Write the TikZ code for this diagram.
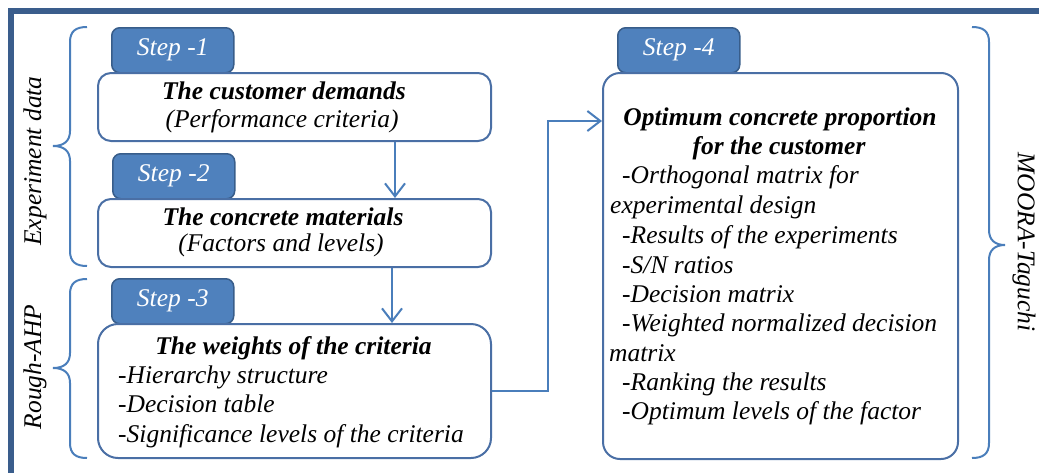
\documentclass[tikz,border=0pt]{standalone}
\usepackage{fontspec}
\setmainfont{Liberation Serif}
\usetikzlibrary{arrows.meta}
\definecolor{framec}{HTML}{3A5D8C}
\definecolor{tabfill}{HTML}{4F81BD}
\definecolor{tabdraw}{HTML}{385D8A}
\definecolor{boxdraw}{HTML}{4A6FA5}
\definecolor{arrc}{HTML}{4A7EBB}
\begin{document}
\begin{tikzpicture}[x=1pt,y=-1pt,
  every node/.style={font=\fontsize{25.5}{29.4}\selectfont\itshape},
  tabbox/.style={draw=tabdraw, fill=tabfill, line width=1.5pt, rounded corners=8pt,
    text=white, minimum width=122pt, minimum height=45pt, anchor=north west, inner sep=0pt},
  stepbox/.style={draw=boxdraw, fill=white, line width=2pt, anchor=north west, inner sep=0pt},
  ln/.style={anchor=base west, inner sep=0pt},
  lc/.style={anchor=base, inner sep=0pt},
  conn/.style={draw=arrc, line width=2pt, -{Straight Barb[length=13pt,width=20pt,line width=2pt]}},
  bracec/.style={draw=arrc, line width=2pt},
  side/.style={inner sep=0pt}]
\useasboundingbox (0,0) rectangle (1039,472);
% frame
\draw[framec, line width=6pt] (11,475) -- (11,11) -- (1042,11);
% tabs
\node[tabbox] (s1) at (111,27) {\raisebox{3pt}{Step -1}};
\node[tabbox] (s2) at (112,153) {\raisebox{3pt}{Step -2}};
\node[tabbox] (s3) at (111,278) {\raisebox{3pt}{Step -3}};
\node[tabbox] (s4) at (617,27) {\raisebox{3pt}{Step -4}};
% boxes
\node[stepbox, rounded corners=13pt, minimum width=393pt, minimum height=68pt] (b1) at (97,72) {};
\node[stepbox, rounded corners=13pt, minimum width=393pt, minimum height=68pt] (b2) at (97,198) {};
\node[stepbox, rounded corners=20pt, minimum width=393pt, minimum height=134pt] (b3) at (97,323) {};
\node[stepbox, rounded corners=17pt, minimum width=355pt, minimum height=386pt] (b4) at (602,72) {};
% box texts
\node[lc] (t1a) at (284,99) {\bfseries The customer demands};
\node[lc] (t1b) at (282,127) {(Performance criteria)};
\node[lc] (t2a) at (283,225) {\bfseries The concrete materials};
\node[lc] (t2b) at (281,251) {(Factors and levels)};
\node[lc] (t3a) at (293.5,354) {\bfseries The weights of the criteria};
\node[ln] (t3b) at (118,383) {-Hierarchy structure};
\node[ln] (t3c) at (118,412) {-Decision table};
\node[ln] (t3d) at (118,442) {-Significance levels of the criteria};
\node[lc] (t4a) at (780,125) {\bfseries Optimum concrete proportion};
\node[lc] (t4b) at (779,154) {\bfseries for the customer};
\node[ln] (t4c) at (622,183) {-Orthogonal matrix for};
\node[ln] (t4d) at (610,213) {experimental design};
\node[ln] (t4e) at (622,243) {-Results of the experiments};
\node[ln] (t4f) at (622,273) {-S/N ratios};
\node[ln] (t4g) at (622,302) {-Decision matrix};
\node[ln] (t4h) at (622,331) {-Weighted normalized decision};
\node[ln] (t4i) at (609,361) {matrix};
\node[ln] (t4j) at (622,390) {-Ranking the results};
\node[ln] (t4k) at (622,419) {-Optimum levels of the factor};
% connectors
\draw[conn] ([xshift=100.5pt]b1.south) -- ([xshift=100.5pt]b2.north);
\draw[conn] ([xshift=97.5pt]b2.south) -- ([xshift=97.5pt]b3.north);
\draw[conn] (b3.east) -- ++(56,0) |- ([yshift=145pt]b4.west);
% braces
\draw[bracec] (87,27) .. controls (76,27) and (70,31) .. (70,42) -- (70,131)
  .. controls (70,141) and (64,146) .. (53,146) .. controls (64,146) and (70,151) .. (70,161)
  -- (70,251) .. controls (70,262) and (76,266) .. (87,266);
\draw[bracec] (87,279) .. controls (76,279) and (70,283) .. (70,294) -- (70,353)
  .. controls (70,363) and (64,368) .. (53,368) .. controls (64,368) and (70,373) .. (70,383)
  -- (70,443) .. controls (70,454) and (76,458) .. (87,458);
\draw[bracec] (972,27) .. controls (983,27) and (989,31) .. (989,42) -- (989,230)
  .. controls (989,240) and (995,245) .. (1005,245) .. controls (995,245) and (989,250) .. (989,260)
  -- (989,443) .. controls (989,454) and (983,458) .. (972,458);
% side labels
\node[side, rotate=90] (l1) at (35,161) {Experiment data};
\node[side, rotate=90] (l2) at (35,367) {Rough-AHP};
\node[side, rotate=-90] (l3) at (1024,242) {MOORA-Taguchi};
\end{tikzpicture}
\end{document}
